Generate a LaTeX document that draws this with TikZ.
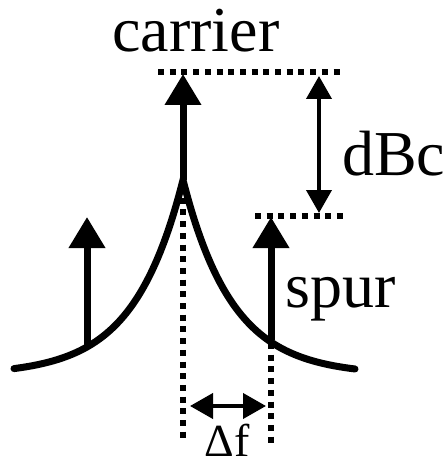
\documentclass[tikz,border=0pt]{standalone}
\usepackage{fontspec}
\setmainfont{Liberation Serif}
\usetikzlibrary{arrows.meta}
\begin{document}
\begin{tikzpicture}[x=1pt,y=-1pt,
  lbl/.style={font=\fontsize{64}{64}\selectfont, inner sep=0pt},
  smalllbl/.style={font=\fontsize{46}{46}\selectfont, inner sep=0pt},
  bigarrow/.style={line width=7pt,-{Triangle[length=31pt,width=35pt]}},
  dimarrow/.style={line width=4pt,{Triangle[length=23pt,width=25pt]}-{Triangle[length=23pt,width=25pt]}},
  dotline/.style={line width=6pt,dash pattern=on 6pt off 5.7pt},
  spectrum/.style={line width=7pt,line cap=round}]
\useasboundingbox (0,0) rectangle (446,468);
% coordinates
\coordinate (peak) at (183,180);
\coordinate (ctip) at (183,74);
\coordinate (lbase) at (87,347);
\coordinate (ltip) at (87,217);
\coordinate (rbase) at (271,340);
\coordinate (rtip) at (271,217);
\coordinate (topL) at (158,72);
\coordinate (topR) at (345,72);
\coordinate (lowL) at (255,216);
\coordinate (lowR) at (345,216);
\coordinate (dtop) at (319,76);
\coordinate (dbot) at (319,213);
\coordinate (vL1) at (183,186);
\coordinate (vL2) at (183,443);
\coordinate (vR1) at (271,343);
\coordinate (vR2) at (271,443);
\coordinate (fL) at (190,406);
\coordinate (fR) at (266,406);
% spectrum curve
\draw[spectrum] plot[domain=14:183,samples=90] (\x,{375-195*exp(-(183-\x)/49.5)})
  -- plot[domain=183:355,samples=90] (\x,{375-195*exp(-(\x-183)/49.5)});
% dotted guides
\draw[dotline] (topL) -- (topR);
\draw[dotline] (lowL) -- (lowR);
\draw[dotline] (vL1) -- (vL2);
\draw[dotline] (vR1) -- (vR2);
% arrows
\draw[bigarrow] (peak) -- (ctip);
\draw[bigarrow] (lbase) -- (ltip);
\draw[bigarrow] (rbase) -- (rtip);
\draw[dimarrow] (dtop) -- (dbot);
\draw[dimarrow] (fL) -- (fR);
% labels
\node[lbl,anchor=base] (carrier) at (196,52) {carrier};
\node[lbl,anchor=base west] (dbc) at (342,175) {dBc};
\node[lbl,anchor=base west] (spur) at (285,307) {spur};
\node[smalllbl,anchor=base] (df) at (227,456) {Δf};
\end{tikzpicture}
\end{document}
